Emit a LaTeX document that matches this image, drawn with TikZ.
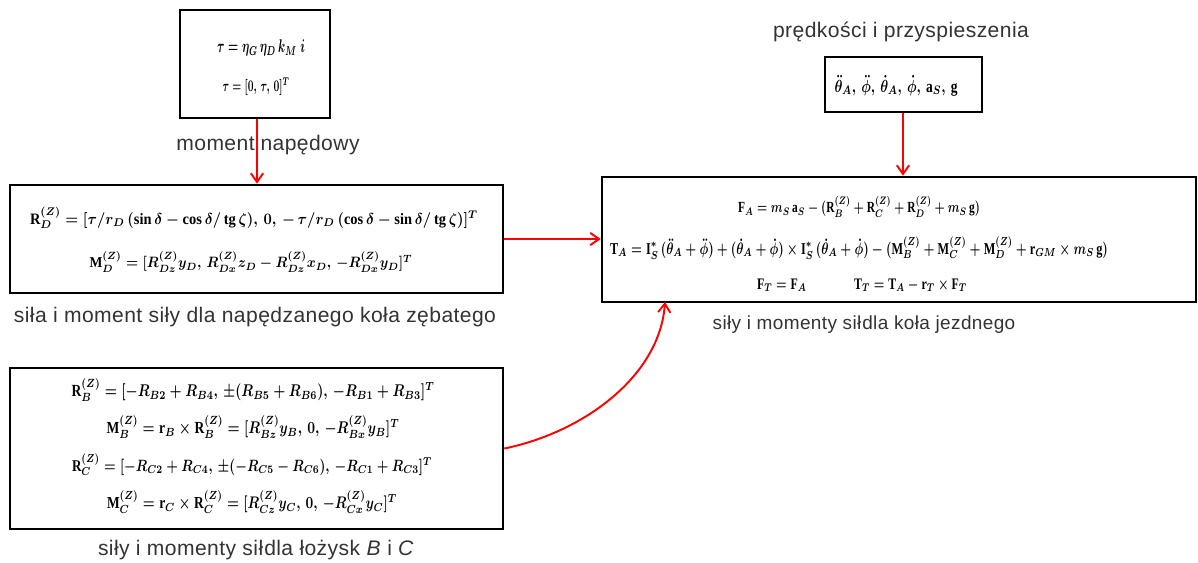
\documentclass[tikz,border=0pt]{standalone}
\usepackage{amsmath,bm,graphicx}
\usepackage{fontspec}
\setmainfont{Liberation Serif}
\newfontfamily\lab{Liberation Sans}[LetterSpace=2]
\usetikzlibrary{arrows.meta}
\newcommand{\fw}[3]{\scalebox{1}[#2]{\resizebox{#1}{!}{\boldmath$#3$}}}
\newcommand{\vb}[1]{\text{\bfseries #1}}
\tikzset{
  box/.style={draw=black, line width=1.5pt, fill=white, inner sep=0pt},
  frm/.style={inner sep=0pt, font=\fontsize{10}{12}\selectfont},
  lbl/.style={inner sep=0pt, font=\lab\fontsize{12}{14}\selectfont, text=black!80},
  arr/.style={draw=red, line width=1.1pt, -{Straight Barb[length=5pt,width=7pt]}}
}
\begin{document}
\begin{tikzpicture}[x=0.02cm,y=-0.02cm]
\useasboundingbox (0,0) rectangle (1198,562);
% boxes
\node[box, minimum width=3.0cm, minimum height=2.16cm] (b1) at (255,64) {};
\node[box, minimum width=9.86cm, minimum height=2.16cm] (b2) at (256.5,239) {};
\node[box, minimum width=9.86cm, minimum height=3.22cm] (b3) at (256.5,448.5) {};
\node[box, minimum width=11.88cm, minimum height=2.5cm] (b4) at (899,239.5) {};
\node[box, minimum width=3.14cm, minimum height=1.1cm] (b5) at (903.5,84.5) {};
% formulas box 1
\node[frm] (f1a) at (261,48) {\fw{1.76cm}{1.6}{\tau = \eta_G\,\eta_D\,k_M\;i}};
\node[frm] (f1b) at (256,87) {\fw{1.34cm}{1.6}{\bm{\tau} = [0,\,\tau,\,0]^T}};
% box 2
\node[frm] (f2a) at (254,218) {\fw{8.96cm}{1.1}{\vb{R}_D^{(Z)} = [\tau/r_D\,(\sin\delta - \cos\delta/\operatorname{tg}\zeta),\,0,\,-\,\tau/r_D\,(\cos\delta - \sin\delta/\operatorname{tg}\zeta)]^T}};
\node[frm] (f2b) at (251,262) {\fw{6.46cm}{1.1}{\vb{M}_D^{(Z)} = [R_{Dz}^{(Z)}y_D,\,R_{Dx}^{(Z)}z_D - R_{Dz}^{(Z)}x_D,\,-R_{Dx}^{(Z)}y_D]^T}};
% box 3
\node[frm] (f3a) at (253,390) {\fw{7.26cm}{1.25}{\vb{R}_B^{(Z)} = [-R_{B2} + R_{B4},\,\pm(R_{B5} + R_{B6}),\,-R_{B1} + R_{B3}]^T}};
\node[frm] (f3b) at (253,427) {\fw{5.86cm}{1.25}{\vb{M}_B^{(Z)} = \vb{r}_B\times\vb{R}_B^{(Z)} = [R_{Bz}^{(Z)}y_B,\,0,\,-R_{Bx}^{(Z)}y_B]^T}};
\node[frm] (f3c) at (252,465) {\fw{7.2cm}{1.25}{\vb{R}_C^{(Z)} = [-R_{C2} + R_{C4},\,\pm(-R_{C5} - R_{C6}),\,-R_{C1} + R_{C3}]^T}};
\node[frm] (f3d) at (252,502) {\fw{5.8cm}{1.25}{\vb{M}_C^{(Z)} = \vb{r}_C\times\vb{R}_C^{(Z)} = [R_{Cz}^{(Z)}y_C,\,0,\,-R_{Cx}^{(Z)}y_C]^T}};
% box 4
\node[frm] (f4a) at (859,207) {\fw{4.84cm}{1.35}{\vb{F}_A = m_S\,\vb{a}_S - (\vb{R}_B^{(Z)} + \vb{R}_C^{(Z)} + \vb{R}_D^{(Z)} + m_S\,\vb{g})}};
\node[frm] (f4b) at (859,248) {\fw{9.96cm}{1.35}{\vb{T}_A = \vb{I}_S^{*}\,(\ddot{\bm\theta}_A + \ddot{\bm\phi}) + (\dot{\bm\theta}_A + \dot{\bm\phi})\times\vb{I}_S^{*}\,(\dot{\bm\theta}_A + \dot{\bm\phi}) - (\vb{M}_B^{(Z)} + \vb{M}_C^{(Z)} + \vb{M}_D^{(Z)} + \vb{r}_{GM}\times m_S\,\vb{g})}};
\node[frm] (f4c) at (862,285) {\fw{4.2cm}{1.35}{\vb{F}_T = \vb{F}_A \qquad\qquad \vb{T}_T = \vb{T}_A - \vb{r}_T\times\vb{F}_T}};
% box 5
\node[frm] (f5) at (896,86) {\fw{2.46cm}{1.3}{\ddot{\bm\theta}_A,\,\ddot{\bm\phi},\,\dot{\bm\theta}_A,\,\dot{\bm\phi},\,\vb{a}_S,\,\vb{g}}};
% labels
\node[lbl] (l1) at (268,145) {moment\;napędowy};
\node[lbl] (l2) at (255,317) {siła i moment siły dla napędzanego koła zębatego};
\node[lbl] (l3) at (256,550) {siły i momenty sił\hspace{0.05em}dla łożysk \textit{B} i \textit{C}};
\node[lbl, font=\lab\fontsize{10.8}{13}\selectfont] (l4) at (864,325) {siły i momenty sił\hspace{0.05em}dla koła jezdnego};
\node[lbl] (l5) at (901,32) {prędkości i przyspieszenia};
% connectors
\draw[arr] (b1.south -| 257,0) -- (b2.north -| 257,0);
\draw[arr] (b2.east) -- (b4.west |- b2.east);
\draw[arr] (b5.south -| 903,0) -- (b4.north -| 903,0);
\coordinate (c4) at (665,302);
\draw[arr] (b3.east) .. controls (585,432) and (660,375) .. (c4);
\end{tikzpicture}
\end{document}
